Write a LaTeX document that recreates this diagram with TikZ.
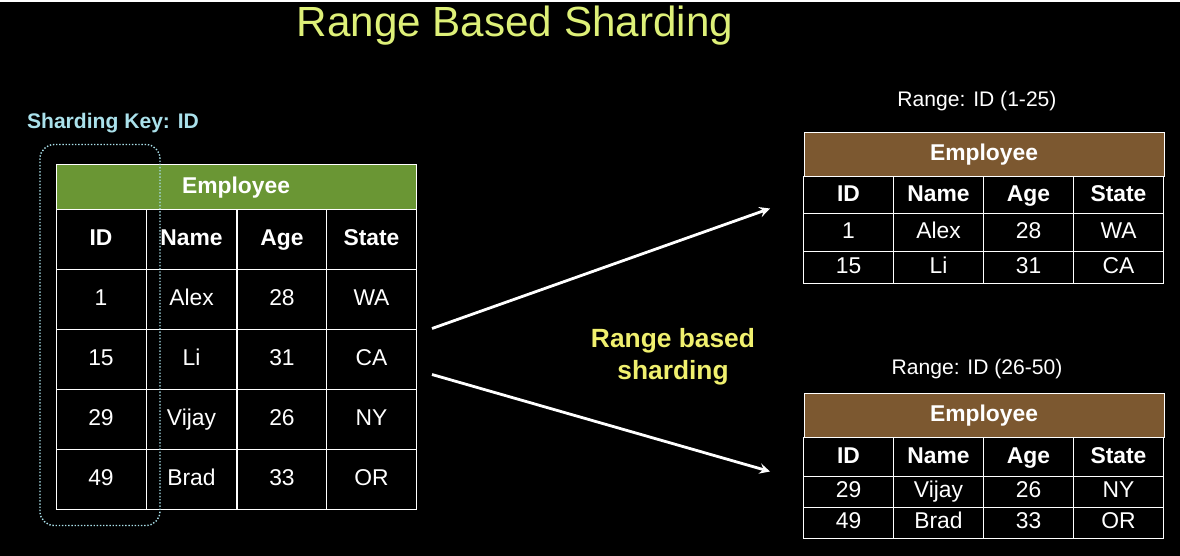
\documentclass[tikz,border=0pt]{standalone}
\usepackage{fontspec}
\setmainfont{Liberation Sans}
\usetikzlibrary{positioning}
\definecolor{titlecol}{RGB}{222,240,120}
\definecolor{keycol}{RGB}{170,225,235}
\definecolor{greenhd}{RGB}{106,150,52}
\definecolor{brownhd}{RGB}{124,88,48}
\definecolor{labcol}{RGB}{240,240,110}
\tikzset{cell/.style={draw=white,fill=black,text=white,font=\fontsize{13}{15}\selectfont,inner sep=0pt,text height=1.6ex,text depth=.3ex},
  hd/.style={cell,font=\bfseries\fontsize{13}{15}\selectfont}}
\begin{document}
\begin{tikzpicture}[x=0.2mm,y=-0.2mm]
		\fill[black] (0,0) rectangle (1180,554);
		\node[text=titlecol,font=\fontsize{24}{28}\selectfont] (title) at (515,24) {Range Based Sharding};
		\node[text=keycol,font=\bfseries\fontsize{12}{14}\selectfont] (key) at (113,122) {Sharding Key: ID};
		
		% main table
		\node[hd,fill=greenhd,minimum width=72mm,minimum height=9mm] (emp) at (236,185.5) {Employee};
		\foreach \c/\x in {ID/101,Name/191.5,Age/282,State/371.5}
			\node[hd,minimum width=18mm,minimum height=12mm] at (\x,238) {\c};
		\foreach \i/\n/\a/\s [count=\r] in {1/Alex/28/WA,15/Li/31/CA,29/Vijay/26/NY,49/Brad/33/OR} {
			\node[cell,minimum width=18mm,minimum height=12mm] at (101,238+60*\r) {\i};
			\node[cell,minimum width=18mm,minimum height=12mm] at (191.5,238+60*\r) {\n};
			\node[cell,minimum width=18mm,minimum height=12mm] at (282,238+60*\r) {\a};
			\node[cell,minimum width=18mm,minimum height=12mm] at (371.5,238+60*\r) {\s};
		}
		\draw[keycol,densely dotted,thick,rounded corners=8] (40,143) rectangle (160,524);
		
		% shard 1
		\node[font=\fontsize{12}{14}\selectfont,text=white] (r1) at (977,100) {Range: ID (1-25)};
		\node[hd,fill=brownhd,minimum width=72mm,minimum height=8.8mm] (s1) at (984,153) {Employee};
		\foreach \c/\x in {ID/848.5,Name/938.5,Age/1028.5,State/1118.5}
			\node[hd,minimum width=18mm,minimum height=7.4mm] at (\x,193.5) {\c};
		\foreach \i/\n/\a/\s/\y/\h in {1/Alex/28/WA/231/7.6,15/Li/31/CA/266/6.4} {
			\node[cell,minimum width=18mm,minimum height=\h mm] at (848.5,\y) {\i};
			\node[cell,minimum width=18mm,minimum height=\h mm] at (938.5,\y) {\n};
			\node[cell,minimum width=18mm,minimum height=\h mm] at (1028.5,\y) {\a};
			\node[cell,minimum width=18mm,minimum height=\h mm] at (1118.5,\y) {\s};
		}
		
		% shard 2
		\node[font=\fontsize{12}{14}\selectfont,text=white] (r2) at (977,368) {Range: ID (26-50)};
		\node[hd,fill=brownhd,minimum width=72mm,minimum height=8.8mm] (s2) at (984,414) {Employee};
		\foreach \c/\x in {ID/848.5,Name/938.5,Age/1028.5,State/1118.5}
			\node[hd,minimum width=18mm,minimum height=7.8mm] at (\x,455.5) {\c};
		\foreach \i/\n/\a/\s/\y in {29/Vijay/26/NY/490,49/Brad/33/OR/521} {
			\node[cell,minimum width=18mm,minimum height=6.2mm] at (848.5,\y) {\i};
			\node[cell,minimum width=18mm,minimum height=6.2mm] at (938.5,\y) {\n};
			\node[cell,minimum width=18mm,minimum height=6.2mm] at (1028.5,\y) {\a};
			\node[cell,minimum width=18mm,minimum height=6.2mm] at (1118.5,\y) {\s};
		}
		
		\coordinate (a1) at (432,327);
		\coordinate (b1) at (770,207);
		\coordinate (a2) at (432,373);
		\coordinate (b2) at (770,470);
		\draw[->,>=stealth,white,line width=1.6pt] (a1) -- (b1);
		\draw[->,>=stealth,white,line width=1.6pt] (a2) -- (b2);
		\node[text=labcol,font=\bfseries\fontsize{15}{18}\selectfont,align=center] (lab) at (673,355) {Range based\\sharding};
\end{tikzpicture}
\end{document}
